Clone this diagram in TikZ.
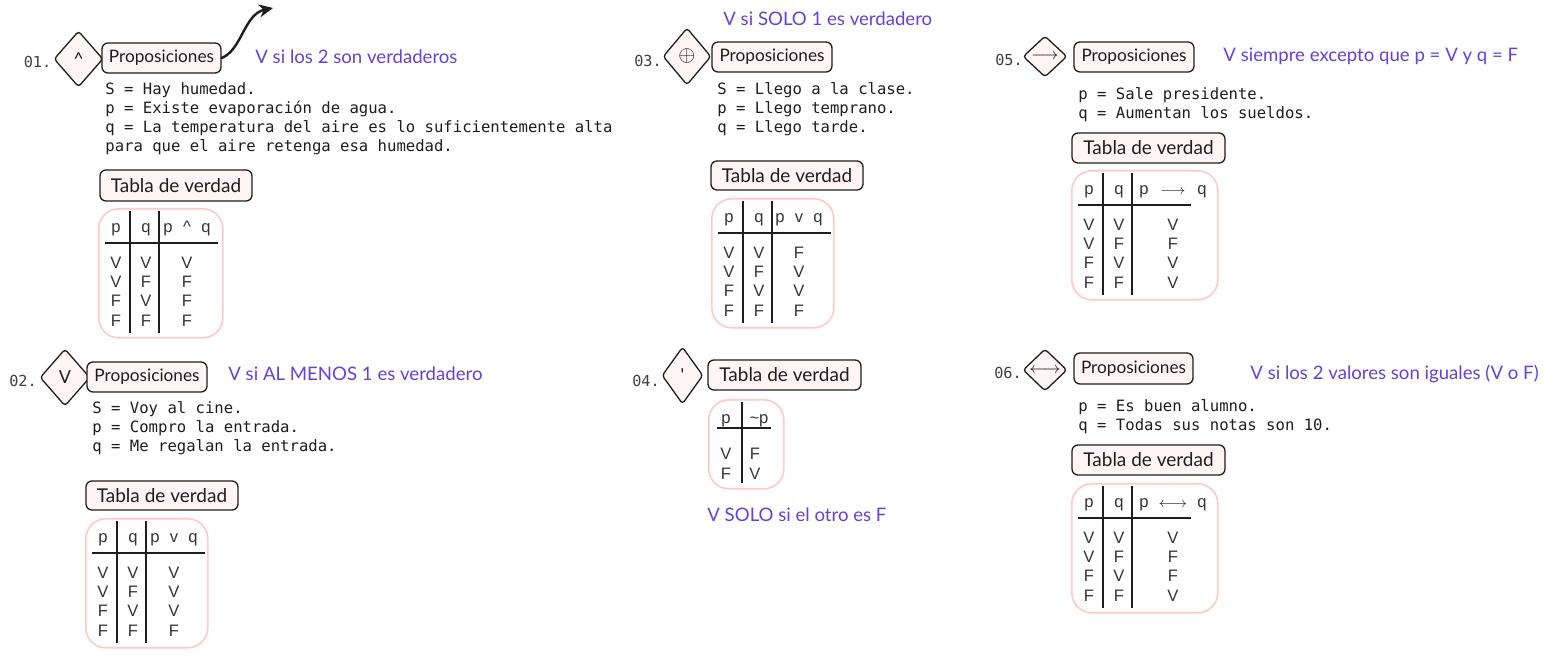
\documentclass[tikz,border=0pt]{standalone}
\usepackage{fontspec}
\setmainfont{Lato}
\newfontfamily\handfont{Lato}
\newfontfamily\monofont{DejaVu Sans Mono}
\newfontfamily\tabfont{Liberation Sans}
\usetikzlibrary{shapes.geometric,arrows.meta}
\definecolor{ink}{HTML}{1E1E1E}
\definecolor{boxfill}{HTML}{FFF5F5}
\definecolor{pinkline}{HTML}{FFC9C9}
\definecolor{notecol}{HTML}{6741D9}
\tikzset{
  pbox/.style={draw=ink, fill=boxfill, line width=0.65pt, rounded corners=3pt, inner sep=0pt,
    font=\handfont\fontsize{8.6}{10}\selectfont, text=ink},
  tbox/.style={pbox, font=\handfont\fontsize{9.5}{11}\selectfont},
  opdia/.style={diamond, draw=ink, fill=boxfill, line width=0.65pt, rounded corners=1.5pt, inner sep=0pt,
    font=\handfont\fontsize{9}{10}\selectfont, text=ink},
  mono/.style={anchor=west, inner sep=0pt, font=\monofont\fontsize{7.8}{9}\selectfont, text=ink,
    text height=1.5ex, text depth=0.25ex},
  numlbl/.style={inner sep=0pt, font=\monofont\fontsize{7.6}{9}\selectfont, text=ink!85,
    text height=1.5ex, text depth=0.25ex},
  note/.style={anchor=west, inner sep=0pt, font=\handfont\fontsize{9.3}{11}\selectfont, text=notecol,
    text height=1.5ex, text depth=0.25ex},
  tframe/.style={draw=pinkline, line width=0.8pt, rounded corners=10pt, anchor=north west, inner sep=0pt},
  tcell/.style={inner sep=0pt, font=\tabfont\fontsize{8.3}{10}\selectfont, text=ink!90,
    text height=1.5ex, text depth=0.25ex},
  tline/.style={draw=ink, line width=0.75pt},
}
% #1 name, #2 left, #3 top, #4 width, #5 col3 centre offset, #6 operator, #7 p/q spread, #8 rows
\newcommand\ttab[8]{%
  \node[tframe, minimum width=#4*0.5pt, minimum height=64.5pt] (#1) at (#2,#3) {};
  \draw[tline] (#2+32,#3+3) -- (#2+32,#3+125);
  \draw[tline] (#2+61,#3+3) -- (#2+61,#3+125);
  \draw[tline, line width=1pt] (#2+7,#3+35) -- (#2+120,#3+35);
  \node[tcell] (#1-hp) at (#2+18,#3+18) {p};
  \node[tcell] (#1-hq) at (#2+48,#3+18) {q};
  \node[tcell] (#1-h3p) at (#2+#5-#7,#3+18) {p};
  \node[tcell] (#1-hop) at (#2+#5,#3+18) {#6};
  \node[tcell] (#1-h3q) at (#2+#5+#7,#3+18) {q};
  \foreach \va/\vb/\vc [count=\i] in {#8} {
    \node[tcell] (#1-a\i) at (#2+18,#3+34.7+19.3*\i) {\va};
    \node[tcell] (#1-b\i) at (#2+48,#3+34.7+19.3*\i) {\vb};
    \node[tcell] (#1-c\i) at (#2+#5,#3+34.7+19.3*\i) {\vc};
  }%
}
\begin{document}
\begin{tikzpicture}[x=0.5pt,y=-0.5pt]
\fill[white] (0,0) rectangle (1558,656);
\useasboundingbox (0,0) rectangle (1558,656);

% ---------------- 01 ----------------
\node[numlbl] (n1) at (37.5,61) {01.};
\node[opdia, minimum width=24.5pt, minimum height=28pt] (d1) at (78.5,59) {\textasciicircum};
\node[pbox, minimum width=59.5pt, minimum height=15pt] (p1) at (161.5,58) {Proposiciones};
\coordinate (a1end) at (273,8);
\draw[ink, line width=1.2pt, line cap=round, -{Stealth[length=7pt,width=6.5pt]}] (p1.east) .. controls (242,50) and (244,14) .. (a1end);
\node[note] (v1) at (255,57) {V si los 2 son verdaderos};
\node[mono] (s1a) at (105,88) {S = Hay humedad.};
\node[mono] (s1b) at (105,107) {p = Existe evaporación de agua.};
\node[mono] (s1c) at (105,126) {q = La temperatura del aire es lo suficientemente alta};
\node[mono] (s1d) at (105,145.5) {para que el aire retenga esa humedad.};
\node[tbox, minimum width=76pt, minimum height=15.5pt] (t1) at (176,185.5) {Tabla de verdad};
\ttab{T1}{98}{208}{124}{89}{\textasciicircum}{19}{V/V/V,V/F/F,F/V/F,F/F/F}

% ---------------- 02 ----------------
\node[numlbl] (n2) at (23,380) {02.};
\node[opdia, minimum width=25pt, minimum height=28.5pt] (d2) at (65,377.5) {V};
\node[pbox, minimum width=60pt, minimum height=15pt] (p2) at (147,377) {Proposiciones};
\node[note] (v2) at (228,374) {V si AL MENOS 1 es verdadero};
\node[mono] (s2a) at (92,407) {S = Voy al cine.};
\node[mono] (s2b) at (92,426) {p = Compro la entrada.};
\node[mono] (s2c) at (92,445) {q = Me regalan la entrada.};
\node[tbox, minimum width=76pt, minimum height=14.5pt] (t2) at (162,495.5) {Tabla de verdad};
\ttab{T2}{85}{518}{122}{89}{v}{19}{V/V/V,V/F/V,F/V/V,F/F/F}

% ---------------- 03 ----------------
\node[note] (v3) at (723,19) {V si SOLO 1 es verdadero};
\node[numlbl] (n3) at (648,60) {03.};
\node[opdia, minimum width=24pt, minimum height=28.5pt] (d3) at (687,56.5) {\fontsize{11}{12}\selectfont$\oplus$};
\node[pbox, minimum width=60pt, minimum height=15pt] (p3) at (772,57) {Proposiciones};
\node[mono] (s3a) at (717,88) {S = Llego a la clase.};
\node[mono] (s3b) at (717,107) {p = Llego temprano.};
\node[mono] (s3c) at (717,126) {q = Llego tarde.};
\node[tbox, minimum width=76pt, minimum height=14.5pt] (t3) at (787,175.5) {Tabla de verdad};
\ttab{T3}{711}{198}{122}{88}{v}{19}{V/V/F,V/F/V,F/V/V,F/F/F}

% ---------------- 04 ----------------
\node[numlbl] (n4) at (646,380) {04.};
\node[opdia, minimum width=20.5pt, minimum height=28.5pt] (d4) at (682.5,375.5) {'};
\node[tbox, minimum width=76.5pt, minimum height=15pt] (t4) at (784.5,375) {Tabla de verdad};
\node[tframe, minimum width=37.5pt, minimum height=44.5pt] (T4) at (708,399) {};
\draw[tline] (742,402) -- (742,483);
\draw[tline, line width=1pt] (717,428) -- (771,428);
\node[tcell] (T4-hp) at (726,417) {p};
\node[tcell] (T4-hn) at (759,417) {\textasciitilde p};
\node[tcell] (T4-a1) at (726,453) {V};
\node[tcell] (T4-b1) at (755,453) {F};
\node[tcell] (T4-a2) at (726,473) {F};
\node[tcell] (T4-b2) at (755,473) {V};
\node[note] (v4) at (707,515) {V SOLO si el otro es F};

% ---------------- 05 ----------------
\node[numlbl] (n5) at (1009,59) {05.};
\node[opdia, minimum width=22pt, minimum height=20.5pt] (d5) at (1045,56.5) {\fontsize{7.8}{9}\selectfont$\longrightarrow$};
\node[pbox, minimum width=60pt, minimum height=15pt] (p5) at (1134,57) {Proposiciones};
\node[note] (v5) at (1223,55) {V siempre excepto que p = V y q = F};
\node[mono] (s5a) at (1078,93) {p = Sale presidente.};
\node[mono] (s5b) at (1078,112) {q = Aumentan los sueldos.};
\node[tbox, minimum width=76.5pt, minimum height=15pt] (t5) at (1148.5,148) {Tabla de verdad};
\ttab{T5}{1071}{170}{146}{102}{\fontsize{7.2}{8}\selectfont$\longrightarrow$}{29}{V/V/V,V/F/F,F/V/V,F/F/V}

% ---------------- 06 ----------------
\node[numlbl] (n6) at (1008,372) {06.};
\node[opdia, minimum width=22pt, minimum height=21pt] (d6) at (1045,370) {\fontsize{7.8}{9}\selectfont$\longleftrightarrow$};
\node[pbox, minimum width=59.5pt, minimum height=15.5pt] (p6) at (1133.5,368.5) {Proposiciones};
\node[note] (v6) at (1250,373) {V si los 2 valores son iguales (V o F)};
\node[mono] (s6a) at (1078,405) {p = Es buen alumno.};
\node[mono] (s6b) at (1078,424) {q = Todas sus notas son 10.};
\node[tbox, minimum width=76.5pt, minimum height=15pt] (t6) at (1148.5,460) {Tabla de verdad};
\ttab{T6}{1071}{483}{146}{102}{\fontsize{7.2}{8}\selectfont$\longleftrightarrow$}{29}{V/V/V,V/F/F,F/V/F,F/F/V}
\end{tikzpicture}
\end{document}
